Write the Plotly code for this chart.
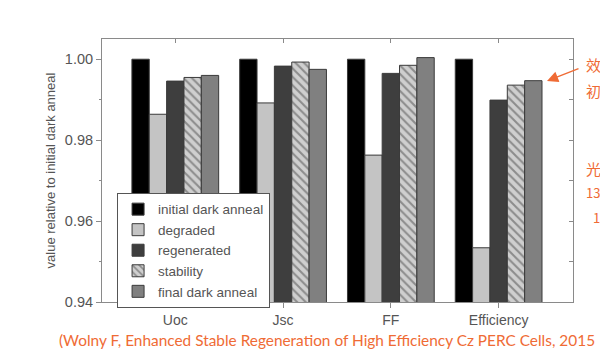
import plotly.graph_objects as go

categories = ["Uoc", "Jsc", "FF", "Efficiency"]
series_names = ["initial dark anneal", "degraded", "regenerated", "stability", "final dark anneal"]
initial_dark_anneal = [1.000, 1.000, 1.000, 1.000]
degraded = [0.9864, 0.9892, 0.9763, 0.9534]
regenerated = [0.9946, 0.9983, 0.9965, 0.9899]
stability = [0.9955, 0.9993, 0.9985, 0.9936]
final_dark_anneal = [0.9960, 0.9975, 1.0004, 0.9947]
y_ticks = [0.94, 0.96, 0.98, 1.00]
y_tick_labels = ["0.94", "0.96", "0.98", "1.00"]

values = [initial_dark_anneal, degraded, regenerated, stability, final_dark_anneal]
colors = ["#000000", "#c4c4c4", "#3e3e3e", "#cccccc", "#808080"]

FONT = "Liberation Sans, Arial, sans-serif"
ORANGE = "#ef6b35"

fig = go.Figure()
for name, vals, col in zip(series_names, values, colors):
    marker = dict(color=col, line=dict(color="#3a3a3a", width=1))
    if name == "stability":
        marker["pattern"] = dict(shape="\\", bgcolor="#cfcfcf", fgcolor="#4a4a4a",
                                 size=6, solidity=0.35, fillmode="overlay")
    fig.add_trace(go.Bar(x=categories, y=vals, name=name, marker=marker))

# empty twin-axes trace: only carries the inside ticks on the top and right frame
fig.add_trace(go.Scatter(x=categories, y=[None] * len(categories), xaxis="x2", yaxis="y2",
                         mode="markers", showlegend=False, hoverinfo="skip"))

xr = [-0.68, 3.69]
yr = [0.94, 1.005]
fig.update_layout(
    width=600, height=350,
    margin=dict(l=102, r=27, t=39, b=48),
    paper_bgcolor="white", plot_bgcolor="white",
    barmode="group", bargap=0.195, bargroupgap=0,
    font=dict(family=FONT, color="#555555"),
    xaxis=dict(type="category", range=xr, showline=True, linecolor="#8a8a8a", linewidth=1,
               mirror=True, ticks="outside", ticklen=5, tickcolor="#8a8a8a",
               tickfont=dict(size=14, color="#555555"), showgrid=False, zeroline=False),
    yaxis=dict(range=yr, tickvals=y_ticks, ticktext=y_tick_labels, showline=True,
               linecolor="#8a8a8a", linewidth=1, mirror=True, ticks="outside", ticklen=5,
               tickcolor="#8a8a8a", tickfont=dict(size=14.5, color="#555555"),
               minor=dict(dtick=0.01, tick0=0.94, ticks="outside", ticklen=2, tickcolor="#8a8a8a"),
               showgrid=False, zeroline=False,
               title=dict(text="value relative to initial dark anneal",
                          font=dict(size=13, color="#555555"), standoff=6)),
    xaxis2=dict(type="category", overlaying="x", side="top", anchor="y2", range=xr,
                ticks="inside", ticklen=4, tickcolor="#8a8a8a", showticklabels=False,
                showline=False, showgrid=False, zeroline=False),
    yaxis2=dict(overlaying="y", side="right", anchor="x2", range=yr, dtick=0.01, tick0=0.94,
                ticks="inside", ticklen=4, tickcolor="#8a8a8a", showticklabels=False,
                showline=False, showgrid=False, zeroline=False),
    legend=dict(x=0.032, y=0.415, xanchor="left", yanchor="top", bgcolor="white",
                bordercolor="#555555", borderwidth=1, font=dict(size=13.5, color="#555555"),
                tracegroupgap=0, itemwidth=30),
    showlegend=True,
)

def px(x):
    return (x - 102) / 471

def py(y):
    return (302 - y) / 263

fig.add_annotation(text="(Wolny F, Enhanced Stable Regeneration of High Efficiency Cz PERC Cells, 2015",
                   xref="paper", yref="paper", x=px(57), y=py(340), xanchor="left", yanchor="middle",
                   showarrow=False, font=dict(family="Lato, sans-serif", size=15.4, color=ORANGE))
fig.add_annotation(text="", xref="paper", yref="paper", x=px(547), y=py(81), ax=33, ay=-13,
                   showarrow=True, arrowhead=2, arrowsize=1.6, arrowwidth=1.4, arrowcolor=ORANGE)
cjk = [("效", 584, 65, 15), ("初", 584, 90, 15), ("光", 584, 168, 15), ("13", 584, 192, 13),
       ("1", 591, 217, 13)]
for t, x, y, s in cjk:
    fig.add_annotation(text=t, xref="paper", yref="paper", x=px(x), y=py(y), xanchor="left",
                       yanchor="middle", showarrow=False,
                       font=dict(family="Noto Sans CJK SC, sans-serif", size=s, color=ORANGE))

fig.write_html("out.html")
